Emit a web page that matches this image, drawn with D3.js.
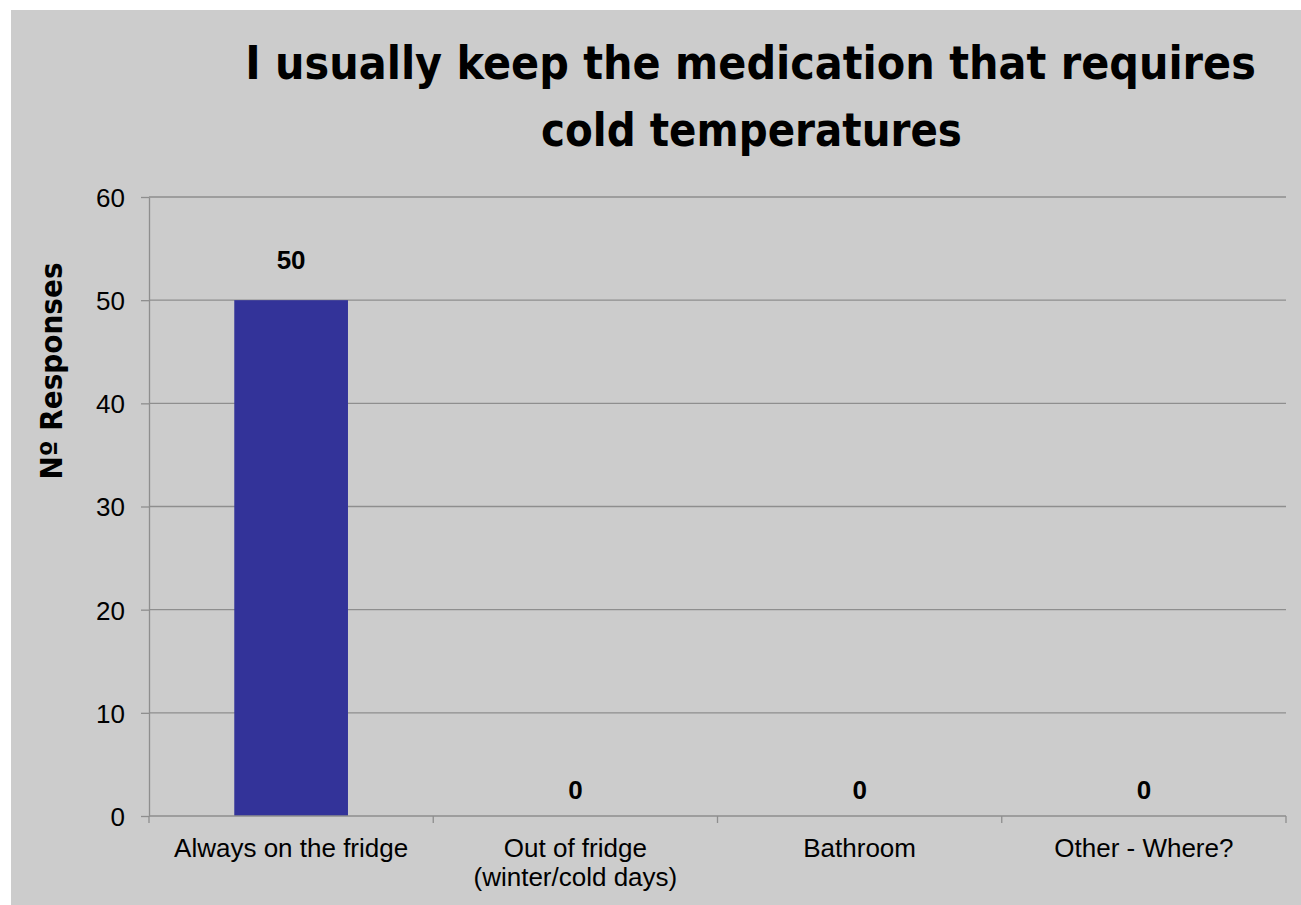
<html>
<head>
<meta charset="utf-8">
<script src="https://d3js.org/d3.v7.min.js"></script>
<style>
html, body { margin: 0; padding: 0; background: #ffffff; overflow: hidden; }
svg { display: block; }
</style>
</head>
<body>
<div id="chart"></div>
<script>
// data
var categories = ["Always on the fridge", "Out of fridge\n(winter/cold days)", "Bathroom", "Other - Where?"];
var responses = [50, 0, 0, 0];
var yTicks = [0, 10, 20, 30, 40, 50, 60];
var titleLines = ["I usually keep the medication that requires", "cold temperatures"];
var yTitle = "N\u00ba Responses";

const w = 1301;
const h = 905;
const plotLeft = 149, plotRight = 1286, plotTop = 197, plotBottom = 816;
const gridColor = "#8e8e8e";
const funFont = "'DejaVu Sans', sans-serif";
const plainFont = "'Liberation Sans', Arial, sans-serif";

const svg = d3.select("#chart")
  .append("svg")
  .attr("width", w)
  .attr("height", h);

// chart background
svg.append("rect")
  .attr("x", 11).attr("y", 10)
  .attr("width", w - 11).attr("height", h - 10)
  .attr("fill", "#cccccc");

const data = categories.map((c, i) => ({cat: c, value: responses[i]}));

const xscale = d3.scaleBand()
  .domain(categories)
  .range([plotLeft, plotRight])
  .paddingInner(0.6)
  .paddingOuter(0.3);
const yscale = d3.scaleLinear()
  .domain([0, 60])
  .range([plotBottom, plotTop]);

// gridlines
svg.append("g").selectAll("line")
  .data(yTicks.filter(t => t > 0))
  .enter()
  .append("line")
  .attr("x1", plotLeft).attr("x2", plotRight)
  .attr("y1", d => yscale(d)).attr("y2", d => yscale(d))
  .attr("stroke", gridColor)
  .attr("stroke-width", 1.3);

// bars
svg.append("g").selectAll("rect")
  .data(data)
  .enter()
  .append("rect")
  .attr("x", d => xscale(d.cat))
  .attr("y", d => yscale(d.value))
  .attr("width", xscale.bandwidth())
  .attr("height", d => yscale(0) - yscale(d.value))
  .attr("fill", "#333399");

// y axis
const yaxis = d3.axisLeft(yscale).tickValues(yTicks).tickSize(8).tickPadding(16).tickSizeOuter(0);
const gy = svg.append("g")
  .attr("transform", `translate(${plotLeft},0)`)
  .call(yaxis);
gy.selectAll("path, line").attr("stroke", gridColor).attr("stroke-width", 1.3);
gy.selectAll("text")
  .attr("font-family", plainFont)
  .attr("font-size", 26)
  .attr("fill", "#000")
  .attr("dy", "0.36em");

// x axis: line plus ticks on the category boundaries
const gx = svg.append("g");
gx.append("line")
  .attr("x1", plotLeft).attr("x2", plotRight)
  .attr("y1", plotBottom).attr("y2", plotBottom)
  .attr("stroke", gridColor).attr("stroke-width", 1.3);
var bounds = categories.map(c => xscale(c) - xscale.step() * xscale.paddingInner() / 2);
bounds.push(xscale.range()[1]);
gx.selectAll("line.tick")
  .data(bounds)
  .enter()
  .append("line")
  .attr("class", "tick")
  .attr("x1", d => d).attr("x2", d => d)
  .attr("y1", plotBottom).attr("y2", plotBottom + 7)
  .attr("stroke", gridColor).attr("stroke-width", 1.3);

const xl = gx.selectAll("text.cat")
  .data(categories)
  .enter()
  .append("text")
  .attr("class", "cat")
  .attr("text-anchor", "middle")
  .attr("font-family", plainFont)
  .attr("font-size", 26)
  .attr("fill", "#000");
xl.each(function(c) {
  var parts = c.split("\n");
  var t = d3.select(this);
  parts.forEach((p, i) => {
    t.append("tspan")
      .attr("x", xscale(c) + xscale.bandwidth() / 2)
      .attr("y", 857 + i * 29)
      .text(p);
  });
});

// value labels
svg.append("g").selectAll("text")
  .data(data)
  .enter()
  .append("text")
  .attr("x", d => xscale(d.cat) + xscale.bandwidth() / 2)
  .attr("y", d => yscale(d.value) - (d.value > 0 ? 31 : 17))
  .attr("text-anchor", "middle")
  .attr("font-family", plainFont)
  .attr("font-weight", "bold")
  .attr("font-size", 26)
  .attr("fill", "#000")
  .text(d => d.value);

// text squeezed to a given width (no Comic Sans here, so a wide bold face is narrowed)
function squeezed(txt, x, y, size, len, rot) {
  var g = svg.append("g");
  var t = g.append("text")
    .attr("text-anchor", "middle")
    .attr("font-family", funFont)
    .attr("font-weight", "bold")
    .attr("font-size", size)
    .attr("fill", "#000")
    .text(txt);
  var k = len / t.node().getComputedTextLength();
  g.attr("transform", `translate(${x},${y}) rotate(${rot}) scale(${k},1)`);
}

// y axis title
squeezed(yTitle, 62, 371, 30, 217, -90);

// chart title
var titlePos = [{x: 750.5, y: 79, len: 1011}, {x: 751.5, y: 146, len: 421}];
titleLines.forEach((d, i) => squeezed(d, titlePos[i].x, titlePos[i].y, 47, titlePos[i].len, 0));
</script>
</body>
</html>
